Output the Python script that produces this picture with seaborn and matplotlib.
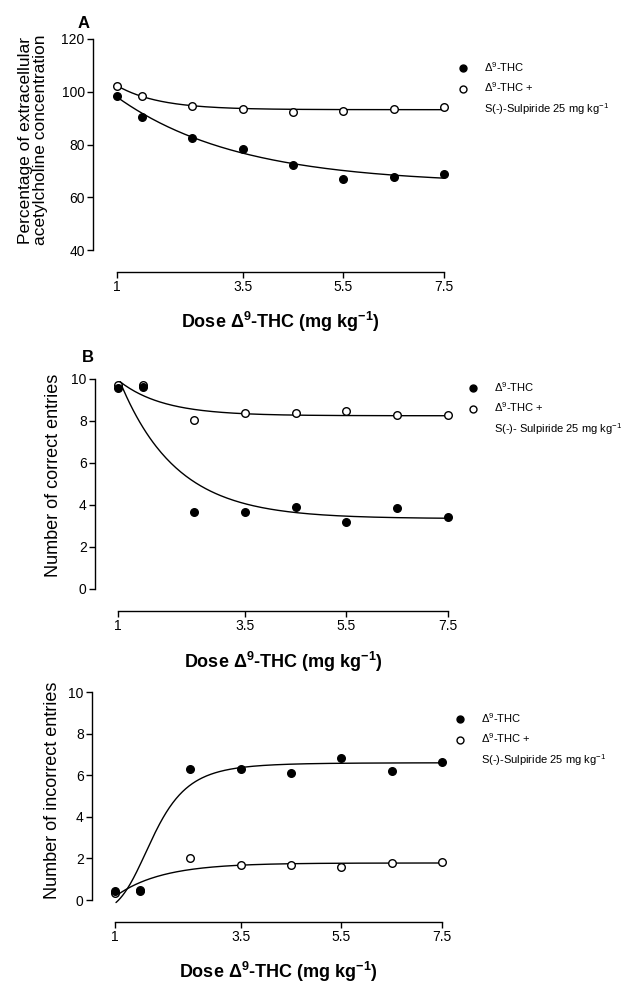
import numpy as np
import pandas as pd
import matplotlib
matplotlib.use('Agg')
import matplotlib.pyplot as plt
import matplotlib.transforms as mtransforms
from matplotlib.lines import Line2D
import seaborn as sns

# ---------------- data ----------------
doses = [1, 1.5, 2.5, 3.5, 4.5, 5.5, 6.5, 7.5]
x_ticks = [1, 3.5, 5.5, 7.5]
x_tick_labels = ['1', '3.5', '5.5', '7.5']
ach_ticks = [40, 60, 80, 100, 120]
entry_ticks = [0, 2, 4, 6, 8, 10]

ach_thc = [98.4, 90.4, 82.5, 78.4, 72.4, 66.8, 67.7, 68.7]
ach_thc_sulp = [102.3, 98.2, 94.6, 93.5, 92.3, 92.7, 93.3, 94.4]
correct_thc = [9.56, 9.6, 3.68, 3.65, 3.89, 3.2, 3.84, 3.41]
correct_thc_sulp = [9.71, 9.71, 8.05, 8.38, 8.38, 8.49, 8.27, 8.27]
incorrect_thc = [0.45, 0.45, 6.29, 6.32, 6.11, 6.83, 6.18, 6.64]
incorrect_thc_sulp = [0.32, 0.5, 2.0, 1.66, 1.66, 1.57, 1.79, 1.81]

# fitted curve parameters
# exponential: y = plateau + span * exp(-k (x - x0))
fit_ach_thc = dict(plateau=65.0, span=33.0, k=0.414, x0=1.0)
fit_ach_sulp = dict(plateau=93.2, span=9.1, k=1.2, x0=1.0)
fit_cor_thc = dict(plateau=3.35, span=6.52, k=0.9, x0=1.04)
fit_cor_sulp = dict(plateau=8.25, span=1.62, k=1.15, x0=1.04)
fit_inc_sulp = dict(plateau=1.78, span=-1.58, k=1.09, x0=1.02)
# sigmoid (log dose): y = bottom + (top-bottom)/(1+10^((logec50-log x)*hill))
fit_inc_thc = dict(bottom=-0.6, top=6.6, logec50=0.243, hill=4.9, x0=1.02)

legend_labels_A = [r'$\Delta^{9}$-THC', r'$\Delta^{9}$-THC +', r'S(-)-Sulpiride 25 mg kg$^{-1}$']
legend_labels_B = [r'$\Delta^{9}$-THC', r'$\Delta^{9}$-THC +', r'S(-)- Sulpiride 25 mg kg$^{-1}$']
legend_labels_C = [r'$\Delta^{9}$-THC', r'$\Delta^{9}$-THC +', r'S(-)-Sulpiride 25 mg kg$^{-1}$']
xlabel_text = r'Dose $\mathbf{\Delta}^{\mathbf{9}}$-THC (mg kg$^{\mathbf{-1}}$)'

# ---------------- style ----------------
sns.set_style('ticks', {'axes.edgecolor': 'black', 'xtick.color': 'black',
                        'ytick.color': 'black', 'text.color': 'black',
                        'axes.labelcolor': 'black'})
plt.rcParams['font.family'] = ['Liberation Sans', 'DejaVu Sans']
plt.rcParams['mathtext.fontset'] = 'custom'
plt.rcParams['mathtext.rm'] = 'Liberation Sans'
plt.rcParams['mathtext.it'] = 'Liberation Sans:italic'
plt.rcParams['mathtext.bf'] = 'Liberation Sans:bold'
plt.rcParams['axes.linewidth'] = 1.0

W, H = 623, 983
fig = plt.figure(figsize=(W / 100, H / 100), dpi=100)


def exp_curve(p, x_end=7.5):
    xs = np.linspace(p['x0'], x_end, 200)
    return xs, p['plateau'] + p['span'] * np.exp(-p['k'] * (xs - p['x0']))


def hill_curve(p, x_end=7.5):
    xs = np.linspace(p['x0'], x_end, 300)
    ys = p['bottom'] + (p['top'] - p['bottom']) / (1 + 10 ** ((p['logec50'] - np.log10(xs)) * p['hill']))
    return xs, ys


def build_axes(x_anchor, y_anchor, left_px, right_px, top_px, bottom_px):
    (xa, pa), (xb, pb) = x_anchor
    sx = (pb - pa) / (xb - xa)
    (ya, qa), (yb, qb) = y_anchor
    sy = (qa - qb) / (yb - ya)
    ax = fig.add_axes([left_px / W, 1 - bottom_px / H,
                       (right_px - left_px) / W, (bottom_px - top_px) / H])
    ax.set_xlim(xa + (left_px - pa) / sx, xa + (right_px - pa) / sx)
    ax.set_ylim(ya - (bottom_px - qa) / sy, ya + (qa - top_px) / sy)
    return ax


def draw_panel(ax, y_filled, y_open, curve_filled, curve_open, yticks,
               ylabel, ylabel_size, ylabel_xy, xlabel_y, legend_labels, legend_xy):
    xs, ys = curve_open
    sns.lineplot(x=xs, y=ys, ax=ax, color='black', linewidth=1.0, sort=False)
    xs, ys = curve_filled
    sns.lineplot(x=xs, y=ys, ax=ax, color='black', linewidth=1.0, sort=False)
    sns.scatterplot(x=doses, y=y_open, ax=ax, marker='o', s=30, color='white',
                    edgecolor='black', linewidth=1.0, zorder=3, clip_on=False)
    sns.scatterplot(x=doses, y=y_filled, ax=ax, marker='o', s=30, color='black',
                    edgecolor='black', linewidth=1.0, zorder=4, clip_on=False)

    sns.despine(ax=ax)
    ax.spines['left'].set_bounds(yticks[0], yticks[-1])
    ax.spines['bottom'].set_bounds(x_ticks[0], x_ticks[-1])
    ax.set_xticks(x_ticks)
    ax.set_xticklabels(x_tick_labels)
    ax.set_yticks(yticks)
    ax.set_yticklabels([str(t) for t in yticks])
    ax.tick_params(axis='both', direction='out', length=4, width=1.0,
                   labelsize=10, pad=2)

    ax.set_ylabel(ylabel, fontsize=ylabel_size, linespacing=1.05, va='center', ha='center')
    ax.yaxis.set_label_coords(ylabel_xy[0] / W, 1 - ylabel_xy[1] / H, transform=fig.transFigure)
    ax.set_xlabel(xlabel_text, fontsize=13, fontweight='bold', va='center')
    tr = mtransforms.blended_transform_factory(ax.transData, fig.transFigure)
    ax.xaxis.set_label_coords(4.25, 1 - xlabel_y / H, transform=tr)

    handles = [Line2D([], [], linestyle='none', marker='o', markersize=5,
                      markerfacecolor='black', markeredgecolor='black'),
               Line2D([], [], linestyle='none', marker='o', markersize=5,
                      markerfacecolor='white', markeredgecolor='black'),
               Line2D([], [], linestyle='none')]
    ax.legend(handles=handles, labels=legend_labels, loc='upper left',
              bbox_to_anchor=(legend_xy[0] / W, 1 - legend_xy[1] / H),
              bbox_transform=fig.transFigure, frameon=False, fontsize=8,
              handlelength=1.0, handletextpad=1.4, labelspacing=0.62,
              borderpad=0, borderaxespad=0)


# ---------------- panel A ----------------
axA = build_axes(((1, 117), (7.5, 444)), ((40, 250), (120, 39)), 93, 452, 36, 272)
draw_panel(axA, ach_thc, ach_thc_sulp, exp_curve(fit_ach_thc), exp_curve(fit_ach_sulp),
           ach_ticks, 'Percentage of extracellular\nacetylcholine concentration', 12.5,
           (33, 140), 322, legend_labels_A, (457, 60))
fig.text(84 / W, 1 - 23 / H, 'A', fontsize=12, fontweight='bold', ha='center', va='center')

# ---------------- panel B ----------------
axB = build_axes(((1, 118), (7.5, 448)), ((0, 589), (10, 379)), 95, 456, 376, 611)
draw_panel(axB, correct_thc, correct_thc_sulp, exp_curve(fit_cor_thc), exp_curve(fit_cor_sulp),
           entry_ticks, 'Number of correct entries', 13, (54, 475), 662,
           legend_labels_B, (467, 380))
fig.text(88 / W, 1 - 358 / H, 'B', fontsize=12, fontweight='bold', ha='center', va='center')

# ---------------- panel C ----------------
axC = build_axes(((1, 115), (7.5, 442)), ((0, 900), (10, 692)), 92, 450, 689, 922)
draw_panel(axC, incorrect_thc, incorrect_thc_sulp, hill_curve(fit_inc_thc), exp_curve(fit_inc_sulp),
           entry_ticks, 'Number of incorrect entries', 13, (53, 790), 972,
           legend_labels_C, (454, 711))

fig.savefig('out.png', dpi=100)
